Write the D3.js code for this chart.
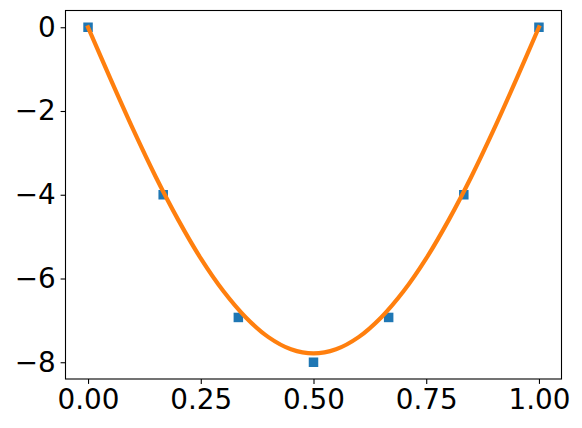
<!DOCTYPE html>
<html lang="en">
<head>
    <meta charset="UTF-8">
    <title>Samples and fitted curve</title>
    <script src="https://d3js.org/d3.v7.min.js"></script>
    <style>
        body { margin: 0; background: #fff; }
        text { font-family: "DejaVu Sans", sans-serif; }
    </style>
</head>
<body>
    <div id="chart"></div>

    <script>
        // Sampled points (blue squares)
        const sampleX = [0, 1/6, 2/6, 3/6, 4/6, 5/6, 1];
        const sampleY = [0, -4.0, -6.93, -8.0, -6.93, -4.0, 0];

        // Fitted curve (orange)
        const curveX = [0, 0.05, 0.1, 0.15, 0.2, 0.25, 0.3, 0.35, 0.4, 0.45, 0.5,
                        0.55, 0.6, 0.65, 0.7, 0.75, 0.8, 0.85, 0.9, 0.95, 1];
        const curveY = [0, -1.24, -2.44, -3.57, -4.6, -5.52, -6.3, -6.93, -7.4, -7.69, -7.79,
                        -7.69, -7.4, -6.93, -6.3, -5.52, -4.6, -3.57, -2.44, -1.24, 0];

        const xTicks = [0, 0.25, 0.5, 0.75, 1];
        const yTicks = [0, -2, -4, -6, -8];

        const width = 582, height = 428;
        const margin = { top: 10.5, right: 20.5, bottom: 49, left: 65.5 };

        const svg = d3.select("#chart")
            .append("svg")
            .attr("width", width)
            .attr("height", height);

        const x = d3.scaleLinear()
            .domain([-0.05, 1.05])
            .range([margin.left, width - margin.right]);

        const y = d3.scaleLinear()
            .domain([-8.4, 0.4])
            .range([height - margin.bottom, margin.top]);

        const fmtY = d => (d < 0 ? "\u2212" : "") + Math.abs(d);

        // X axis
        svg.append("g")
            .attr("transform", "translate(0," + (height - margin.bottom) + ")")
            .call(d3.axisBottom(x).tickValues(xTicks).tickFormat(d3.format(".2f"))
                .tickSize(4.9).tickPadding(4.9))
            .call(g => g.select(".domain").remove())
            .call(g => g.selectAll("line").attr("stroke-width", 1.1))
            .call(g => g.selectAll("text").attr("font-size", "27.8px")
                .attr("font-family", "DejaVu Sans").attr("fill", "#000"));

        // Y axis
        svg.append("g")
            .attr("transform", "translate(" + margin.left + ",0)")
            .call(d3.axisLeft(y).tickValues(yTicks).tickFormat(fmtY)
                .tickSize(4.9).tickPadding(4.9))
            .call(g => g.select(".domain").remove())
            .call(g => g.selectAll("line").attr("stroke-width", 1.1))
            .call(g => g.selectAll("text").attr("font-size", "27.8px")
                .attr("font-family", "DejaVu Sans").attr("fill", "#000"));

        // Markers
        const m = 9.5;
        svg.append("g")
            .selectAll("rect")
            .data(sampleX.map((d, i) => [d, sampleY[i]]))
            .enter()
            .append("rect")
            .attr("x", d => x(d[0]) - m / 2)
            .attr("y", d => y(d[1]) - m / 2)
            .attr("width", m)
            .attr("height", m)
            .attr("fill", "#1f77b4");

        // Curve
        const line = d3.line()
            .x(d => x(d[0]))
            .y(d => y(d[1]))
            .curve(d3.curveCatmullRom);

        svg.append("path")
            .datum(curveX.map((d, i) => [d, curveY[i]]))
            .attr("d", line)
            .attr("fill", "none")
            .attr("stroke", "#ff7f0e")
            .attr("stroke-width", 4.2)
            .attr("stroke-linecap", "square");

        // Frame
        svg.append("rect")
            .attr("x", margin.left)
            .attr("y", margin.top)
            .attr("width", width - margin.left - margin.right)
            .attr("height", height - margin.top - margin.bottom)
            .attr("fill", "none")
            .attr("stroke", "#000")
            .attr("stroke-width", 1.1);
    </script>
</body>
</html>
